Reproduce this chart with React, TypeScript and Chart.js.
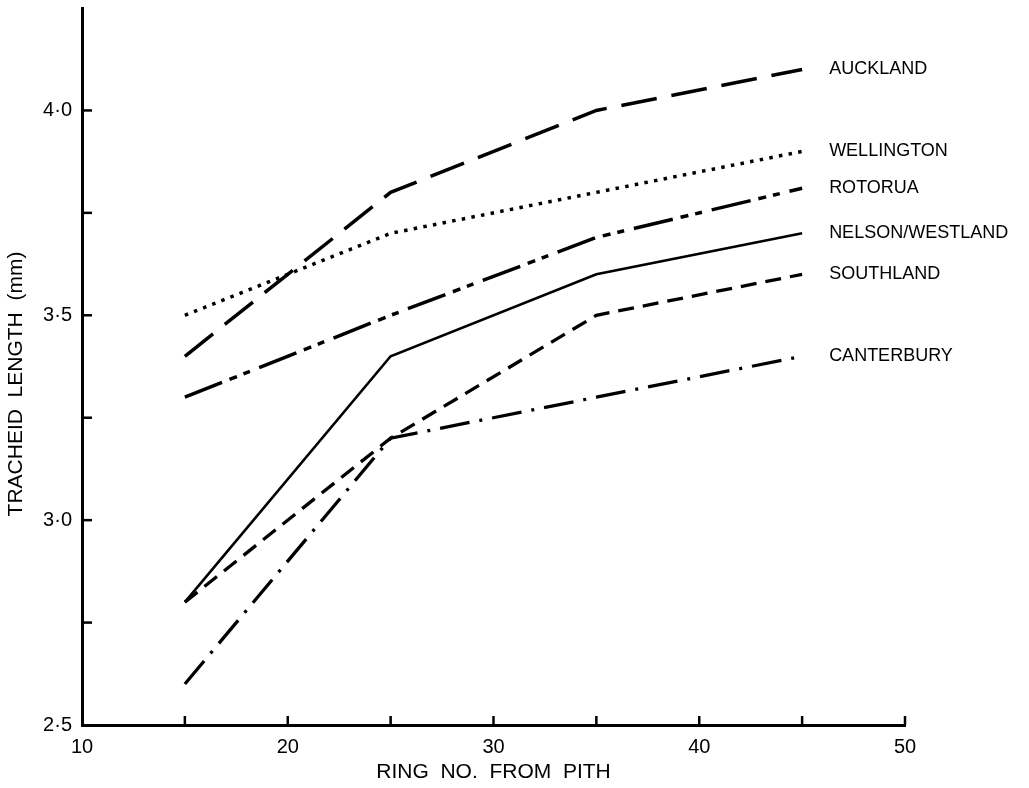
import React, { useEffect, useRef } from "react";
import { Chart, registerables } from "chart.js";

Chart.register(...registerables);

const rings = [15, 25, 35, 45];
const auckland = [3.4, 3.8, 4.0, 4.1];
const wellington = [3.5, 3.7, 3.8, 3.9];
const rotorua = [3.3, 3.5, 3.69, 3.81];
const nelsonWestland = [2.8, 3.4, 3.6, 3.7];
const southland = [2.8, 3.2, 3.5, 3.6];
const canterbury = [2.6, 3.2, 3.3, 3.4];
const seriesNames = ["AUCKLAND", "WELLINGTON", "ROTORUA", "NELSON/WESTLAND", "SOUTHLAND", "CANTERBURY"];
const xTickLabels = [10, 20, 30, 40, 50];
const yTickLabels = [2.5, 3.0, 3.5, 4.0];

const FONT = "'Liberation Sans', Arial, Helvetica, sans-serif";

const inwardTicks = {
  id: "inwardTicks",
  afterDraw(chart: any) {
    const { ctx, chartArea, scales } = chart;
    ctx.save();
    ctx.strokeStyle = "#000";
    ctx.lineWidth = 2.5;
    scales.x.ticks.forEach((t: any) => {
      const px = scales.x.getPixelForValue(t.value);
      if (px <= chartArea.left + 2) return;
      ctx.beginPath();
      ctx.moveTo(px, chartArea.bottom);
      ctx.lineTo(px, chartArea.bottom - 9);
      ctx.stroke();
    });
    scales.y.ticks.forEach((t: any) => {
      const py = scales.y.getPixelForValue(t.value);
      if (py >= chartArea.bottom - 2 || py <= chartArea.top + 2) return;
      ctx.beginPath();
      ctx.moveTo(chartArea.left, py);
      ctx.lineTo(chartArea.left + 10, py);
      ctx.stroke();
    });
    ctx.restore();
  },
};

const endLabels = {
  id: "endLabels",
  afterDatasetsDraw(chart: any) {
    const { ctx, scales } = chart;
    ctx.save();
    ctx.fillStyle = "#000";
    ctx.font = `18px ${FONT}`;
    ctx.textBaseline = "middle";
    ctx.textAlign = "left";
    chart.data.datasets.forEach((ds: any) => {
      const last = ds.data[ds.data.length - 1];
      const x = scales.x.getPixelForValue(last.x) + 27;
      const y = scales.y.getPixelForValue(last.y);
      ctx.fillText(ds.label, x, y);
    });
    ctx.restore();
  },
};

function toPoints(vals: number[]) {
  return rings.map((r, i) => ({ x: r, y: vals[i] }));
}

export default function App() {
  const ref = useRef<HTMLCanvasElement>(null);
  useEffect(() => {
    if (!ref.current) return;
    const seriesVals = [auckland, wellington, rotorua, nelsonWestland, southland, canterbury];
    const dashes = [
      [36, 15],
      [3.5, 6.3],
      [40, 8, 8, 7, 7, 10],
      [],
      [16, 9],
      [30, 10, 3, 10],
    ];
    const widths = [3.5, 3.5, 3.5, 2.6, 3.3, 3.3];
    const chart = new Chart(ref.current, {
      type: "line",
      data: {
        datasets: seriesVals.map((v, i) => ({
          label: seriesNames[i],
          data: toPoints(v),
          borderColor: "#000",
          backgroundColor: "#000",
          borderWidth: widths[i],
          borderDash: dashes[i],
          pointRadius: 0,
          tension: 0,
          fill: false,
        })),
      },
      options: {
        animation: false,
        responsive: false,
        layout: { padding: { left: 0, top: 8, right: 124, bottom: 0 } },
        plugins: { legend: { display: false }, tooltip: { enabled: false } },
        scales: {
          x: {
            type: "linear",
            min: 10,
            max: 50,
            grid: { display: false },
            border: { display: true, color: "#000", width: 3 },
            afterFit: (s: any) => {
              s.height = 63;
              s.paddingLeft = 0;
              s.paddingRight = 0;
            },
            ticks: {
              stepSize: 5,
              padding: 2,
              color: "#000",
              font: { family: FONT, size: 20 },
              maxRotation: 0,
              autoSkip: false,
              callback: (v: any) => (xTickLabels.includes(Number(v)) ? String(v) : ""),
            },
            title: {
              display: true,
              text: "RING  NO.  FROM  PITH",
              color: "#000",
              font: { family: FONT, size: 21 },
              padding: { top: 0, bottom: 3 },
            },
          },
          y: {
            type: "linear",
            min: 2.5,
            max: 4.25,
            grid: { display: false },
            border: { display: true, color: "#000", width: 3 },
            afterFit: (s: any) => {
              s.width = 82;
              s.paddingTop = 0;
              s.paddingBottom = 0;
            },
            ticks: {
              stepSize: 0.25,
              padding: 2,
              color: "#000",
              font: { family: FONT, size: 20 },
              autoSkip: false,
              callback: (v: any) => {
                const n = Number(v);
                return yTickLabels.some((t) => Math.abs(t - n) < 1e-6) ? n.toFixed(1).replace(".", "·") : "";
              },
            },
            title: {
              display: true,
              text: "TRACHEID  LENGTH  (mm)      ",
              color: "#000",
              font: { family: FONT, size: 21 },
              padding: { top: 4, bottom: 0 },
            },
          },
        },
      },
      plugins: [inwardTicks, endLabels],
    });
    return () => chart.destroy();
  }, []);
  return (
    <div style={{ position: "absolute", left: 0, top: 0, width: 1029, height: 788, background: "#fff" }}>
      <canvas ref={ref} width={1029} height={788} style={{ display: "block" }} />
    </div>
  );
}
